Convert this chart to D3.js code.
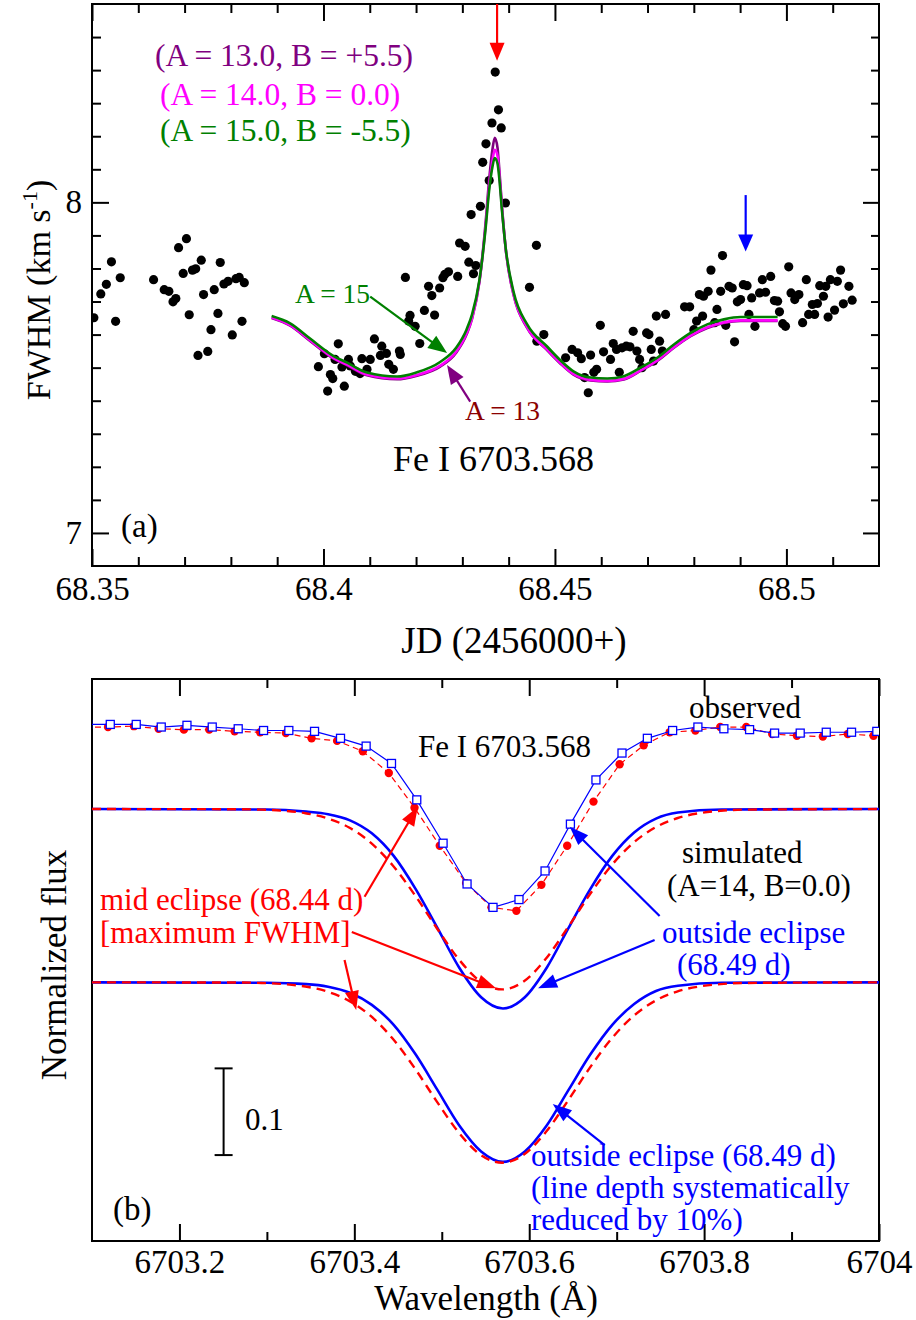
<!DOCTYPE html>
<html><head><meta charset="utf-8">
<script src="https://cdn.jsdelivr.net/npm/d3@7"></script>
<style>
body{margin:0;background:#fff}
svg{display:block}
text{font-family:"Liberation Serif","Times New Roman",serif}
</style>
</head><body>
<svg id="chart" width="916" height="1320"></svg>
<script>
// ---------------- Panel (a): FWHM vs JD ----------------
const jdObs = [68.3504,68.3519,68.3531,68.3542,68.3551,68.3561,68.3633,68.3656,68.3666,68.3675,68.3681,68.3687,68.3704,68.3697,68.3710,68.3717,68.3724,68.3736,68.3729,68.3750,68.3741,68.3757,68.3764,68.3772,68.3777,68.3785,68.3794,68.3803,68.3811,68.3818,68.3824,68.3829,
68.3989,68.4002,68.4009,68.4015,68.4020,68.4025,68.4032,68.4040,68.4045,68.4054,68.4058,68.4069,68.4079,68.4083,68.4094,68.4101,68.4110,68.4123,68.4126,68.4136,68.4141,68.4151,68.4164,68.4166,68.4177,68.4184,68.4187,68.4198,68.4208,68.4218,68.4227,68.4234,68.4240,68.4251,68.4258,68.4262,68.4270,68.4290,68.4294,68.4306,68.4314,68.4324,68.4329,68.4319,68.4339,68.4344,68.4351,68.4358,68.4364,68.4371,68.4378,68.4384,68.4393,68.4445,68.4460,68.4461,68.4476,
68.4523,68.4537,68.4549,68.4557,68.4564,68.4572,68.4577,68.4584,68.4590,68.4598,68.4605,68.4620,68.4626,68.4633,68.4639,68.4645,68.4654,68.4662,68.4669,68.4677,68.4683,68.4688,68.4698,68.4703,68.4708,68.4713,68.4719,68.4726,68.4732,68.4739,68.4780,68.4791,68.4800,68.4806,68.4812,68.4819,68.4821,68.4831,68.4837,68.4845,68.4850,68.4858,68.4862,68.4869,68.4876,68.4883,68.4888,68.4894,68.4901,68.4907,68.4915,68.4919,68.4925,68.4932,68.4942,68.4948,68.4955,68.4966,68.4974,68.4981,68.4985,68.4992,68.4998,68.5005,68.5010,68.5018,68.5027,68.5035,68.5043,68.5048,68.5056,68.5061,68.5067,68.5072,68.5080,68.5085,68.5090,68.5095,68.5104,68.5110,68.5117,68.5123,68.5135,68.5142];
const fwhmObs = [7.651,7.723,7.752,7.820,7.640,7.772,7.766,7.736,7.731,7.699,7.709,7.863,7.890,7.785,7.660,7.795,7.799,7.825,7.537,7.549,7.721,7.615,7.736,7.664,7.818,7.753,7.761,7.599,7.769,7.773,7.640,7.757,
7.503,7.542,7.429,7.479,7.467,7.525,7.572,7.502,7.444,7.525,7.505,7.489,7.482,7.527,7.495,7.525,7.587,7.537,7.565,7.543,7.510,7.495,7.550,7.540,7.773,7.641,7.658,7.625,7.573,7.673,7.746,7.718,7.659,7.741,7.772,7.782,7.790,7.776,7.877,7.867,7.819,7.784,7.809,7.963,7.988,8.121,8.177,8.066,8.240,8.394,8.280,8.225,7.998,7.743,7.870,7.580,7.600,
7.530,7.555,7.545,7.527,7.470,7.424,7.538,7.486,7.495,7.628,7.548,7.525,7.573,7.555,7.486,7.560,7.565,7.563,7.610,7.550,7.525,7.500,7.605,7.600,7.555,7.520,7.656,7.580,7.550,7.661,7.684,7.684,7.615,7.641,7.721,7.656,7.716,7.731,7.795,7.636,7.676,7.731,7.839,7.628,7.746,7.741,7.578,7.699,7.706,7.751,7.748,7.661,7.711,7.625,7.726,7.766,7.728,7.776,7.703,7.701,7.669,7.633,7.625,7.805,7.726,7.706,7.721,7.636,7.766,7.661,7.691,7.661,7.694,7.748,7.716,7.746,7.653,7.766,7.674,7.761,7.795,7.693,7.746,7.704];

const modelJD = [68.3888,68.3928,68.3971,68.4022,68.4051,68.4094,68.4159,68.4200,68.4252,68.4287,68.4309,68.4321,68.4337,68.4350,68.4358,68.4365,68.4370,68.4376,68.4379,68.4386,68.4394,68.4411,68.4440,68.4483,68.4512,68.4540,68.4577,68.4613,68.4649,68.4685,68.4721,68.4757,68.4793,68.4829,68.4865,68.4901,68.4981];
const modelA13 = [7.650,7.627,7.581,7.527,7.507,7.477,7.465,7.475,7.503,7.546,7.600,7.648,7.762,7.935,8.070,8.160,8.195,8.165,8.115,7.980,7.855,7.718,7.620,7.553,7.512,7.479,7.461,7.458,7.464,7.490,7.520,7.560,7.595,7.620,7.635,7.641,7.641];
const modelA14 = [7.652,7.629,7.583,7.529,7.509,7.479,7.467,7.477,7.506,7.549,7.603,7.650,7.760,7.925,8.050,8.125,8.159,8.140,8.100,7.975,7.855,7.720,7.622,7.555,7.514,7.481,7.463,7.460,7.466,7.492,7.522,7.562,7.597,7.622,7.637,7.643,7.643];
const modelA15 = [7.656,7.634,7.588,7.535,7.515,7.485,7.473,7.485,7.517,7.561,7.615,7.661,7.766,7.918,8.038,8.108,8.134,8.117,8.084,7.969,7.857,7.727,7.631,7.564,7.522,7.489,7.470,7.467,7.474,7.500,7.530,7.570,7.605,7.631,7.646,7.653,7.653];
const modelNames = ["(A = 13.0, B = +5.5)","(A = 14.0, B = 0.0)","(A = 15.0, B = -5.5)"];

const xTicksA = [68.35,68.40,68.45,68.50];
const xTickLabelsA = ["68.35","68.4","68.45","68.5"];
const xMinorA = [68.36,68.37,68.38,68.39,68.41,68.42,68.43,68.44,68.46,68.47,68.48,68.49,68.51];
const yTicksA = [7,8];
const yTickLabelsA = ["7","8"];
const yMinorA = [7.1,7.2,7.3,7.4,7.5,7.6,7.7,7.8,7.9,8.1,8.2,8.3,8.4,8.5];

// ---------------- Panel (b): line profiles ----------------
const lamObsOut = [6703.0950,6703.1209,6703.1506,6703.1792,6703.2086,6703.2375,6703.2672,6703.2962,6703.3251,6703.3545,6703.3842,6703.4135,6703.4425,6703.4714,6703.5015,6703.5289,6703.5586,6703.5883,6703.6181,6703.6471,6703.6763,6703.7061,6703.7351,6703.7640,6703.7929,6703.8226,6703.8520,6703.8806,6703.9099,6703.9397,6703.9686,6703.9975,6704.0270];
const fluxObsOut = [1.003,1.003,1.003,1.000,1.002,1.000,0.998,0.996,0.996,0.995,0.987,0.978,0.958,0.916,0.866,0.819,0.792,0.801,0.834,0.888,0.939,0.970,0.987,0.996,1.000,0.998,0.997,0.993,0.993,0.994,0.994,0.995,0.996];
const lamObsMid = [6703.0920,6703.1183,6703.1480,6703.1762,6703.2051,6703.2341,6703.2631,6703.2923,6703.3217,6703.3511,6703.3803,6703.4097,6703.4394,6703.4688,6703.4977,6703.5278,6703.5568,6703.5853,6703.6139,6703.6434,6703.6735,6703.7034,6703.7309,6703.7606,6703.7900,6703.8185,6703.8482,6703.8779,6703.9061,6703.9358,6703.9643,6703.9937,6704.0230];
const fluxObsMid = [1.000,1.000,1.001,0.998,0.997,0.997,0.995,0.994,0.993,0.987,0.984,0.972,0.947,0.907,0.863,0.820,0.792,0.788,0.818,0.863,0.914,0.957,0.979,0.994,0.996,1.000,1.000,0.992,0.990,0.989,0.992,0.990,0.990];

const lamSimOut = [6703.10,6703.30,6703.345,6703.37,6703.395,6703.42,6703.445,6703.47,6703.495,6703.52,6703.545,6703.57,6703.595,6703.62,6703.645,6703.67,6703.695,6703.72,6703.745,6703.77,6703.82,6704.00];
const fluxSimOut = [1.000,0.9995,0.997,0.994,0.987,0.972,0.946,0.908,0.863,0.817,0.783,0.770,0.783,0.817,0.863,0.908,0.946,0.973,0.989,0.996,0.9995,1.000];
const fluxSimOutReduced = [1.000,0.9995,0.998,0.995,0.988,0.974,0.951,0.917,0.876,0.835,0.805,0.793,0.805,0.835,0.876,0.917,0.951,0.975,0.990,0.996,0.9995,1.000];
const lamSimMid = [6703.10,6703.269,6703.294,6703.319,6703.344,6703.369,6703.394,6703.419,6703.444,6703.469,6703.494,6703.519,6703.544,6703.569,6703.594,6703.619,6703.644,6703.669,6703.694,6703.719,6703.744,6703.769,6703.794,6703.819,6703.844,6704.00];
const fluxSimMid = [1.000,0.9998,0.9993,0.998,0.9952,0.9894,0.9787,0.961,0.9349,0.9011,0.8631,0.8273,0.8014,0.792,0.8014,0.8273,0.8631,0.9011,0.9349,0.961,0.9787,0.9894,0.9952,0.998,0.9993,1.000];
const profileOffsets = [0, -0.0946, -0.2945]; // observed, simulated, simulated (reduced)

const xTicksB = [6703.2,6703.4,6703.6,6703.8,6704.0];
const xTickLabelsB = ["6703.2","6703.4","6703.6","6703.8","6704"];
const xMinorB = [6703.3,6703.5,6703.7,6703.9];
const scaleBar = [0.5063, 0.6063];
const scaleBarLam = 6703.2505;

// ---------------- drawing ----------------
const FONT = '"Liberation Serif","Times New Roman",serif';
const svg = d3.select("#chart");
const PA = {l:92, r:879, t:4, b:566};
const PB = {l:92, r:879, t:679, b:1241};

const xA = d3.scaleLinear().domain([68.35,68.52]).range([PA.l,PA.r]);
const yA = d3.scaleLinear().domain([6.9,8.6]).range([PA.b,PA.t]);
const xB = d3.scaleLinear().domain([6703.1,6704.0]).range([PB.l,PB.r]);
const yB = d3.scaleLinear().domain([0.4072,1.0554]).range([PB.b,PB.t]);

const defs = svg.append("defs");
defs.append("clipPath").attr("id","clipA").append("rect").attr("x",PA.l).attr("y",PA.t).attr("width",PA.r-PA.l).attr("height",PA.b-PA.t);
defs.append("clipPath").attr("id","clipB").append("rect").attr("x",PB.l).attr("y",PB.t).attr("width",PB.r-PB.l).attr("height",PB.b-PB.t);

function styleAxis(g, size){
  g.attr("font-family",FONT).attr("font-size",size);
  g.select(".domain").remove();
  g.selectAll(".tick line").attr("stroke","#000").attr("stroke-width",2);
  g.selectAll(".tick text").attr("fill","#000").attr("font-family",FONT).style("font-family",FONT).attr("font-size",size);
}
function arrow(g,x1,y1,x2,y2,color,lw,hl,hw){
  const dx=x2-x1, dy=y2-y1, L=Math.hypot(dx,dy), ux=dx/L, uy=dy/L;
  const bx=x2-ux*hl, by=y2-uy*hl;
  g.append("line").attr("x1",x1).attr("y1",y1).attr("x2",x2-ux*hl*0.6).attr("y2",y2-uy*hl*0.6)
    .attr("stroke",color).attr("stroke-width",lw);
  g.append("path").attr("d",`M${x2},${y2}L${bx-uy*hw/2},${by+ux*hw/2}L${bx+uy*hw/2},${by-ux*hw/2}Z`).attr("fill",color);
}
function txt(x,y,s,color,size,anchor){
  return svg.append("text").attr("x",x).attr("y",y).attr("fill",color||"#000")
    .attr("font-size",size||31).attr("text-anchor",anchor||"start").text(s);
}

// ---- Panel A axes ----
const axA1 = svg.append("g").attr("transform",`translate(0,${PA.b})`)
  .call(d3.axisBottom(xA).tickValues(xTicksA).tickFormat((d,i)=>xTickLabelsA[i]).tickSize(-17).tickPadding(11));
styleAxis(axA1,33);
const axA2 = svg.append("g").attr("transform",`translate(0,${PA.b})`)
  .call(d3.axisBottom(xA).tickValues(xMinorA).tickFormat("").tickSize(-9));
styleAxis(axA2,33);
const axA3 = svg.append("g").attr("transform",`translate(0,${PA.t})`)
  .call(d3.axisTop(xA).tickValues(xTicksA).tickFormat("").tickSize(-17));
styleAxis(axA3,33);
const axA4 = svg.append("g").attr("transform",`translate(0,${PA.t})`)
  .call(d3.axisTop(xA).tickValues(xMinorA).tickFormat("").tickSize(-9));
styleAxis(axA4,33);
const axA5 = svg.append("g").attr("transform",`translate(${PA.l},0)`)
  .call(d3.axisLeft(yA).tickValues(yTicksA).tickFormat((d,i)=>yTickLabelsA[i]).tickSize(-17).tickPadding(10));
styleAxis(axA5,33);
const axA6 = svg.append("g").attr("transform",`translate(${PA.l},0)`)
  .call(d3.axisLeft(yA).tickValues(yMinorA).tickFormat("").tickSize(-9));
styleAxis(axA6,33);
const axA7 = svg.append("g").attr("transform",`translate(${PA.r},0)`)
  .call(d3.axisRight(yA).tickValues(yTicksA).tickFormat("").tickSize(-16));
styleAxis(axA7,33);
const axA8 = svg.append("g").attr("transform",`translate(${PA.r},0)`)
  .call(d3.axisRight(yA).tickValues(yMinorA).tickFormat("").tickSize(-8));
styleAxis(axA8,33);

svg.append("rect").attr("x",PA.l).attr("y",PA.t).attr("width",PA.r-PA.l).attr("height",PA.b-PA.t)
  .attr("fill","none").attr("stroke","#000").attr("stroke-width",2);

const gA = svg.append("g").attr("clip-path","url(#clipA)");
gA.selectAll("circle").data(jdObs.map((d,i)=>[d,fwhmObs[i]]).filter(d=>d[1]!==undefined))
  .join("circle").attr("cx",d=>xA(d[0])).attr("cy",d=>yA(d[1])).attr("r",4.6).attr("fill","#000");

const modelLine = d3.line().x((d,i)=>xA(modelJD[i])).y(d=>yA(d)).curve(d3.curveMonotoneX);
[[modelA13,"#800080"],[modelA14,"#ff00ff"],[modelA15,"#008000"]].forEach(([arr,c])=>{
  gA.append("path").attr("d",modelLine(arr)).attr("fill","none").attr("stroke",c).attr("stroke-width",2.6);
});

// annotations panel A
arrow(svg, xA(68.4375), yA(8.6), xA(68.4375), yA(8.428), "#ff0000", 2.2, 18, 15);
arrow(svg, xA(68.4912), yA(8.022), xA(68.4912), yA(7.851), "#0000ff", 2.2, 17, 15);
arrow(svg, xA(68.4101), yA(7.715), xA(68.4267), yA(7.544), "#008000", 2.2, 19, 15);
arrow(svg, xA(68.4317), yA(7.397), xA(68.4267), yA(7.508), "#800080", 2.2, 19, 15);

txt(155, 66, modelNames[0], "#800080", 31.5);
txt(160, 105, modelNames[1], "#ff00ff", 31.5);
txt(160, 141, modelNames[2], "#008000", 31.5);
txt(295, 303, "A = 15", "#008000", 27.5);
txt(465, 420, "A = 13", "#8b0000", 27.5);
txt(393, 471, "Fe I 6703.568", "#000", 36);
txt(121, 537, "(a)", "#000", 33);
txt(514, 653, "JD (2456000+)", "#000", 37, "middle");
const yl = svg.append("text").attr("transform","translate(50,290) rotate(-90)").attr("text-anchor","middle")
  .attr("font-size",34).attr("fill","#000");
yl.append("tspan").text("FWHM (km s");
yl.append("tspan").attr("font-size",22).attr("dy",-13).text("-1");
yl.append("tspan").attr("dy",13).text(")");

// ---- Panel B axes ----
const axB1 = svg.append("g").attr("transform",`translate(0,${PB.b})`)
  .call(d3.axisBottom(xB).tickValues(xTicksB).tickFormat((d,i)=>xTickLabelsB[i]).tickSize(-17).tickPadding(9));
styleAxis(axB1,33);
const axB2 = svg.append("g").attr("transform",`translate(0,${PB.b})`)
  .call(d3.axisBottom(xB).tickValues(xMinorB).tickFormat("").tickSize(-9));
styleAxis(axB2,33);
const axB3 = svg.append("g").attr("transform",`translate(0,${PB.t})`)
  .call(d3.axisTop(xB).tickValues(xTicksB).tickFormat("").tickSize(-17));
styleAxis(axB3,33);
const axB4 = svg.append("g").attr("transform",`translate(0,${PB.t})`)
  .call(d3.axisTop(xB).tickValues(xMinorB).tickFormat("").tickSize(-9));
styleAxis(axB4,33);

svg.append("rect").attr("x",PB.l).attr("y",PB.t).attr("width",PB.r-PB.l).attr("height",PB.b-PB.t)
  .attr("fill","none").attr("stroke","#000").attr("stroke-width",2);

const gB = svg.append("g").attr("clip-path","url(#clipB)");
function profLine(lams, off, curve){
  return d3.line().x((d,i)=>xB(lams[i])).y(d=>yB(d+off)).curve(curve||d3.curveLinear);
}
// simulated profiles
const sm = d3.curveMonotoneX;
gB.append("path").attr("d",profLine(lamSimOut,profileOffsets[1],sm)(fluxSimOut)).attr("fill","none").attr("stroke","#0000ff").attr("stroke-width",2.6);
gB.append("path").attr("d",profLine(lamSimMid,profileOffsets[1],sm)(fluxSimMid)).attr("fill","none").attr("stroke","#ff0000").attr("stroke-width",2.4).attr("stroke-dasharray","9,6");
gB.append("path").attr("d",profLine(lamSimOut,profileOffsets[2],sm)(fluxSimOutReduced)).attr("fill","none").attr("stroke","#0000ff").attr("stroke-width",2.6);
gB.append("path").attr("d",profLine(lamSimMid,profileOffsets[2],sm)(fluxSimMid)).attr("fill","none").attr("stroke","#ff0000").attr("stroke-width",2.4).attr("stroke-dasharray","9,6");

// observed profiles
gB.append("path").attr("d",profLine(lamObsMid,profileOffsets[0])(fluxObsMid)).attr("fill","none").attr("stroke","#ff0000").attr("stroke-width",1.2).attr("stroke-dasharray","6,4");
gB.selectAll("circle.mid").data(fluxObsMid).join("circle").attr("class","mid")
  .attr("cx",(d,i)=>xB(lamObsMid[i])).attr("cy",d=>yB(d+profileOffsets[0])).attr("r",4.2).attr("fill","#ff0000");
gB.append("path").attr("d",profLine(lamObsOut,profileOffsets[0])(fluxObsOut)).attr("fill","none").attr("stroke","#0000ff").attr("stroke-width",1.2);
gB.selectAll("rect.out").data(fluxObsOut).join("rect").attr("class","out")
  .attr("x",(d,i)=>xB(lamObsOut[i])-4).attr("y",d=>yB(d+profileOffsets[0])-4).attr("width",8).attr("height",8)
  .attr("fill","#fff").attr("stroke","#0000ff").attr("stroke-width",1.3);

// scale bar
const sbx = xB(scaleBarLam);
svg.append("line").attr("x1",sbx).attr("x2",sbx).attr("y1",yB(scaleBar[0])).attr("y2",yB(scaleBar[1])).attr("stroke","#000").attr("stroke-width",2);
scaleBar.forEach(v=>svg.append("line").attr("x1",sbx-9).attr("x2",sbx+9).attr("y1",yB(v)).attr("y2",yB(v)).attr("stroke","#000").attr("stroke-width",2));
txt(245, 1130, "0.1", "#000", 31);

// annotations panel B
arrow(svg, xB(6703.4117), yB(0.8043), xB(6703.4726), yB(0.9081), "#ff0000", 2.2, 19, 14);
arrow(svg, xB(6703.3971), yB(0.7636), xB(6703.5621), yB(0.6986), "#ff0000", 2.2, 19, 14);
arrow(svg, xB(6703.3888), yB(0.7313), xB(6703.4021), yB(0.6736), "#ff0000", 2.2, 19, 14);
arrow(svg, xB(6703.7491), yB(0.782), xB(6703.6463), yB(0.885), "#0000ff", 2.2, 19, 14);
arrow(svg, xB(6703.7434), yB(0.7543), xB(6703.6101), yB(0.6986), "#0000ff", 2.2, 19, 14);
arrow(svg, xB(6703.6863), yB(0.5179), xB(6703.6269), yB(0.5652), "#0000ff", 2.2, 19, 14);

txt(689, 718, "observed", "#000", 31);
txt(418, 757, "Fe I 6703.568", "#000", 31);
txt(682, 863, "simulated", "#000", 31);
txt(667, 896, "(A=14, B=0.0)", "#000", 31);
txt(662, 943, "outside eclipse", "#0000ff", 31);
txt(677, 975, "(68.49 d)", "#0000ff", 31);
txt(100, 910, "mid eclipse (68.44 d)", "#ff0000", 31);
txt(100, 943, "[maximum FWHM]", "#ff0000", 31);
txt(531, 1166, "outside eclipse (68.49 d)", "#0000ff", 31);
txt(531, 1198, "(line depth systematically", "#0000ff", 31);
txt(531, 1230, "reduced by 10%)", "#0000ff", 31);
txt(113, 1220, "(b)", "#000", 33);
txt(486, 1310, "Wavelength (Å)", "#000", 35, "middle");
svg.append("text").attr("transform","translate(66,965) rotate(-90)").attr("text-anchor","middle")
  .attr("font-size",35).attr("fill","#000").text("Normalized flux");
</script>
</body></html>
